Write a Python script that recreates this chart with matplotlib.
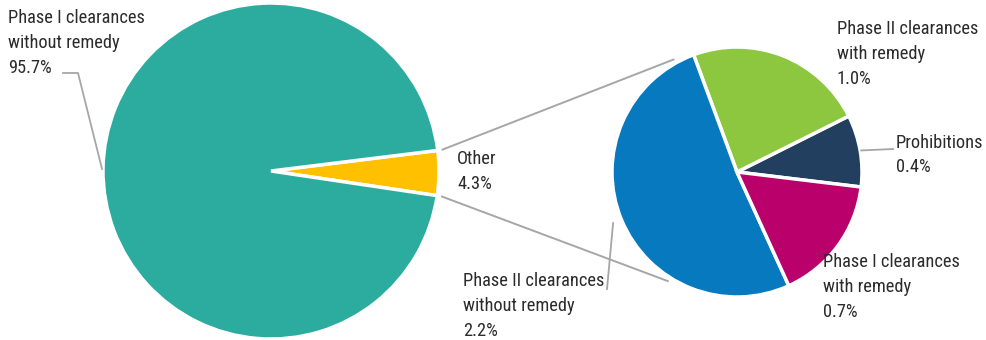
import numpy as np
import matplotlib
matplotlib.use("Agg")
import matplotlib.pyplot as plt
from matplotlib import font_manager

# --- data -------------------------------------------------------------
main_labels = ["Other", "Phase I clearances\nwithout remedy"]
main_values = [4.3, 95.7]
main_colors = ["#FFC000", "#2BAC9F"]

sub_labels = ["Prohibitions", "Phase II clearances\nwith remedy",
              "Phase II clearances\nwithout remedy", "Phase I clearances\nwith remedy"]
sub_values = [0.4, 1.0, 2.2, 0.7]
sub_colors = ["#233F5F", "#8DC63F", "#0779BF", "#BA006B"]

# --- font -------------------------------------------------------------
names = {f.name for f in font_manager.fontManager.ttflist}
family = [f for f in ["Liberation Sans Narrow", "Roboto Condensed", "Roboto"] if f in names] + ["DejaVu Sans"]
plt.rcParams["font.family"] = family
TXT = "#2b2b2b"
LINE = "#A6A6A6"
FS = 13.2

W, H = 986, 340
fig = plt.figure(figsize=(W / 100, H / 100), dpi=100)
ax = fig.add_axes([0, 0, 1, 1])

# pixel-like coordinate frame (y up)
c1 = np.array([271.0, H - 171.0]); r1 = 168.0
c2 = np.array([737.0, H - 172.0]); r2 = 125.0

start1 = -main_values[0] / 100 * 360 / 2 - 0.7
w1, _ = ax.pie(main_values, colors=main_colors, startangle=start1, counterclock=True,
               center=tuple(c1), radius=r1,
               wedgeprops=dict(edgecolor="white", linewidth=2.5))

start2 = -6.9
w2, _ = ax.pie(sub_values, colors=sub_colors, startangle=start2, counterclock=True,
               center=tuple(c2), radius=r2,
               wedgeprops=dict(edgecolor="white", linewidth=2.5))

ax.set_xlim(0, W)
ax.set_ylim(0, H)
ax.set_aspect("equal")
ax.axis("off")


def pt(c, r, ang):
    a = np.deg2rad(ang)
    return c + r * np.array([np.cos(a), np.sin(a)])


# connector lines from the "Other" wedge to the breakdown pie
other = w1[0]
for a1, a2 in [(other.theta2, 119.0), (other.theta1, 238.0)]:
    p = pt(c1, r1 + 4, a1)
    q = pt(c2, r2 + 4, a2)
    ax.plot([p[0], q[0]], [p[1], q[1]], color=LINE, lw=1.4, solid_capstyle="butt", zorder=0)


def mid(w):
    return (w.theta1 + w.theta2) / 2


def text(x, y, s):
    ax.text(x, H - y, s, ha="left", va="center", fontsize=FS, color=TXT,
            linespacing=1.47, multialignment="left", fontstretch="condensed")


# large pie labels
p = pt(c1, r1 + 1, mid(w1[1]))
ax.plot([63, 78, p[0]], [H - 73, H - 73, p[1]], color=LINE, lw=1.3)
text(8, 43, "Phase I clearances\nwithout remedy\n95.7%")
text(457, 171.5, "Other\n4.3%")

# breakdown labels
text(837, 54, "Phase II clearances\nwith remedy\n1.0%")

p = pt(c2, r2 + 1, mid(w2[0]))
ax.plot([p[0], 893], [p[1], H - 149], color=LINE, lw=1.3)
text(896, 155, "Prohibitions\n0.4%")

text(823, 287, "Phase I clearances\nwith remedy\n0.7%")

p = pt(c2, r2 + 9, mid(w2[2]))
ax.plot([p[0], 607], [p[1], H - 289], color=LINE, lw=1.3)
text(463, 306, "Phase II clearances\nwithout remedy\n2.2%")

fig.savefig("out.png", dpi=100)
